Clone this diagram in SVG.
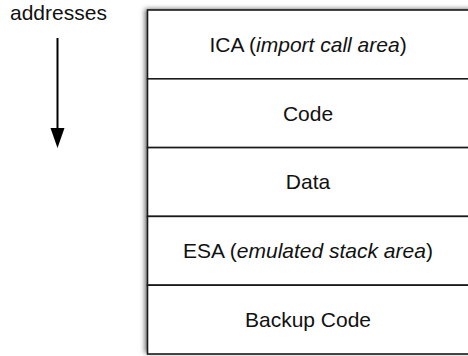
<svg xmlns="http://www.w3.org/2000/svg" width="468" height="356" viewBox="0 0 468 356">
  <style>
    text { font-family: "Liberation Sans", Arial, Helvetica, sans-serif; font-size: 21px; fill: #111; }
    .lbl { text-anchor: middle; }
    .row { fill: #fff; stroke: #1a1a1a; stroke-width: 1.6; }
  </style>
  <defs>
    <filter id="shadow" x="-10%" y="-10%" width="120%" height="120%">
      <feDropShadow dx="-2.5" dy="-1" stdDeviation="2.5" flood-color="#000" flood-opacity="0.6"/>
    </filter>
  </defs>
  <text x="10" y="20">addresses</text>
  <g id="connectors">
    <line x1="57.5" y1="38" x2="57.5" y2="129" stroke="#000" stroke-width="2"/>
    <path d="M50.5,128 L64.5,128 L57.5,148 Z" fill="#000"/>
  </g>
  <rect x="147.5" y="10" width="330" height="344" fill="#fff" filter="url(#shadow)"/>
  <g id="ica">
    <rect class="row" x="147.5" y="10" width="330" height="68.8"/>
    <text class="lbl" x="308" y="51.5">ICA (<tspan font-style="italic">import call area</tspan>)</text>
  </g>
  <g id="code">
    <rect class="row" x="147.5" y="78.8" width="330" height="68.8"/>
    <text class="lbl" x="308" y="120.5">Code</text>
  </g>
  <g id="data">
    <rect class="row" x="147.5" y="147.6" width="330" height="68.8"/>
    <text class="lbl" x="308" y="189.3">Data</text>
  </g>
  <g id="esa">
    <rect class="row" x="147.5" y="216.4" width="330" height="68.8"/>
    <text class="lbl" x="308" y="258">ESA (<tspan font-style="italic">emulated stack area</tspan>)</text>
  </g>
  <g id="backup">
    <rect class="row" x="147.5" y="285.2" width="330" height="68.8"/>
    <text class="lbl" x="308" y="327">Backup Code</text>
  </g>
</svg>
